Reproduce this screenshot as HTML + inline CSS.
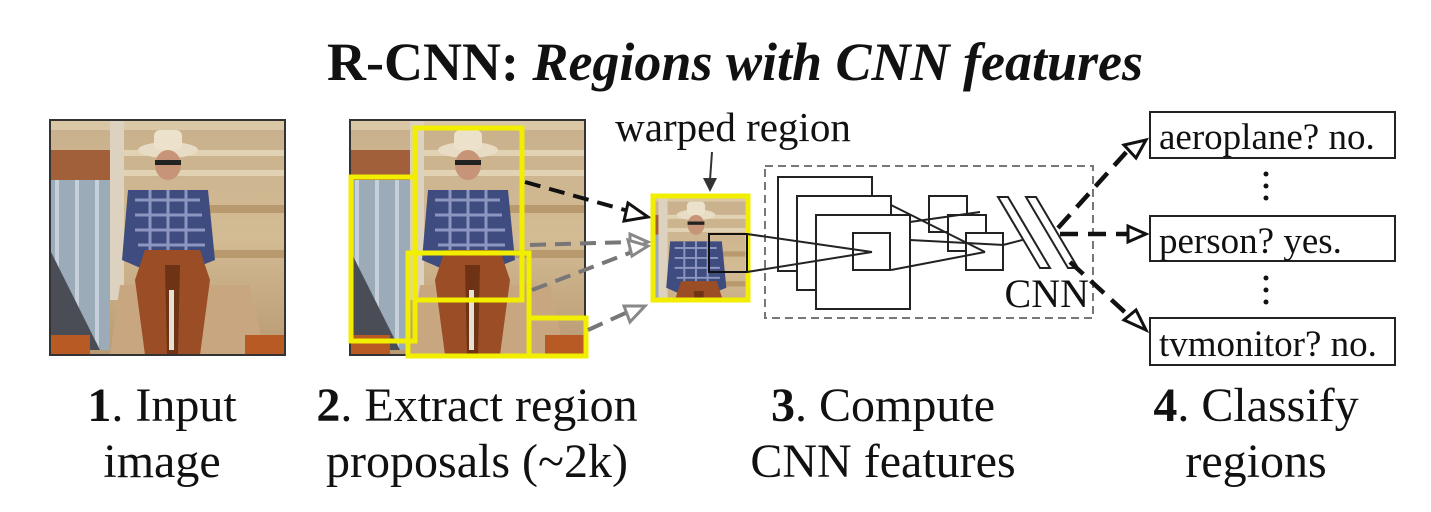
<!DOCTYPE html>
<html><head><meta charset="utf-8"><style>
html,body{margin:0;padding:0;background:#fff;}
svg{display:block;}
text{font-family:"Liberation Serif",serif;fill:#111;}
</style></head><body>
<svg width="1431" height="512" viewBox="0 0 1431 512" xmlns="http://www.w3.org/2000/svg">
<defs>
<linearGradient id="bg" x1="0" y1="0" x2="0" y2="1">
<stop offset="0" stop-color="#c8b08c"/><stop offset="0.5" stop-color="#d3bb94"/><stop offset="1" stop-color="#b89a74"/>
</linearGradient>
<g id="photo">
<rect x="0" y="0" width="235" height="235" fill="url(#bg)"/>
<rect x="0" y="0" width="235" height="10" fill="#d9c7a6"/>
<rect x="0" y="30" width="235" height="6" fill="#e2d2b4"/>
<rect x="0" y="50" width="235" height="6" fill="#e2d2b4"/>
<rect x="60" y="0" width="14" height="180" fill="#ddd2c0"/>
<rect x="0" y="30" width="60" height="30" fill="#a2603a"/>
<rect x="0" y="60" width="60" height="170" fill="#9cabb8"/>
<rect x="5" y="60" width="4" height="170" fill="#c6d0da"/>
<rect x="25" y="60" width="4" height="170" fill="#c6d0da"/>
<rect x="45" y="60" width="4" height="170" fill="#c6d0da"/>
<polygon points="0,130 50,230 0,230" fill="#4a4d56"/>
<rect x="150" y="85" width="85" height="8" fill="#b99a6e"/>
<rect x="150" y="130" width="85" height="8" fill="#b99a6e"/>
<polygon points="70,165 200,165 215,235 60,235" fill="#c8a780"/>
<ellipse cx="118" cy="30" rx="30" ry="8" fill="#e8dcc4"/>
<rect x="104" y="10" width="28" height="20" rx="6" fill="#ece2cc"/>
<ellipse cx="118" cy="45" rx="13" ry="15" fill="#c79478"/>
<rect x="105" y="40" width="26" height="5" fill="#222"/>
<polygon points="78,70 158,70 165,140 140,150 95,150 72,140" fill="#3f4c80"/>
<path d="M85,80 L150,80 M85,95 L152,95 M85,110 L155,110 M88,125 L155,125 M100,70 L100,150 M118,70 L118,150 M136,70 L136,150" stroke="#8d96c0" stroke-width="3"/>
<polygon points="95,130 150,130 160,160 150,235 95,235 85,160" fill="#9b4e26"/>
<polygon points="115,145 130,145 128,235 117,235" fill="#6e3214"/>
<rect x="119" y="170" width="5" height="60" fill="#e6e0d4"/>
<rect x="0" y="215" width="40" height="20" fill="#b85a24"/>
<rect x="195" y="215" width="40" height="20" fill="#b85a24"/>
</g>
</defs>

<text x="735" y="80" text-anchor="middle" font-size="54" font-weight="bold">R-CNN: <tspan font-style="italic">Regions with CNN features</tspan></text>

<use href="#photo" x="50" y="120"/>
<rect x="50" y="120" width="235" height="235" fill="none" stroke="#333" stroke-width="2"/>

<use href="#photo" x="350" y="120"/>
<rect x="350" y="120" width="235" height="235" fill="none" stroke="#333" stroke-width="2"/>
<g fill="none" stroke="#f2ee00" stroke-width="5">
<rect x="415" y="128" width="107" height="172"/>
<rect x="351" y="177" width="64" height="164"/>
<rect x="408" y="253" width="121" height="103"/>
<rect x="529" y="318" width="57" height="38"/>
</g>

<g stroke-width="4" fill="none" stroke-dasharray="16,9">
<line x1="525" y1="182" x2="632" y2="212" stroke="#111"/>
<line x1="530" y1="245" x2="632" y2="242" stroke="#777"/>
<line x1="532" y1="290" x2="632" y2="252" stroke="#777"/>
<line x1="588" y1="330" x2="632" y2="310" stroke="#777"/>
</g>
<polygon points="648,217 628,203 624,221" fill="#fff" stroke="#111" stroke-width="3"/>
<polygon points="648,242 630,234 630,250" fill="#fff" stroke="#888" stroke-width="3"/>
<polygon points="648,246 628,240 632,256" fill="#fff" stroke="#888" stroke-width="3"/>
<polygon points="645,306 624,306 630,322" fill="#fff" stroke="#888" stroke-width="3"/>

<text x="733" y="141" text-anchor="middle" font-size="41">warped region</text>
<line x1="712" y1="152" x2="710" y2="180" stroke="#333" stroke-width="2"/>
<polygon points="703,178 717,178 710,192" fill="#333"/>
<svg x="652" y="195" width="97" height="106" viewBox="50 0 150 160" preserveAspectRatio="none"><use href="#photo"/></svg>
<rect x="653" y="196" width="95" height="104" fill="none" stroke="#f2ee00" stroke-width="5"/>
<rect x="709" y="234" width="38" height="38" fill="none" stroke="#111" stroke-width="2"/>

<rect x="765" y="166" width="328" height="152" fill="none" stroke="#777" stroke-width="2" stroke-dasharray="8,5"/>
<g fill="#fff" stroke="#222" stroke-width="2">
<rect x="778" y="177" width="94" height="94"/>
<rect x="797" y="196" width="94" height="94"/>
<rect x="816" y="215" width="94" height="94"/>
<rect x="853" y="233" width="37" height="37"/>
<rect x="929" y="196" width="38" height="36"/>
<rect x="948" y="215" width="38" height="36"/>
<rect x="966" y="233" width="37" height="37"/>
</g>
<g stroke="#222" stroke-width="2" fill="none">
<line x1="747" y1="234" x2="872" y2="252"/>
<line x1="747" y1="272" x2="872" y2="252"/>
<line x1="891" y1="205" x2="985" y2="252"/>
<line x1="891" y1="270" x2="985" y2="252"/>
<line x1="910" y1="222" x2="980" y2="212"/>
<line x1="910" y1="240" x2="1004" y2="245"/>
<line x1="1003" y1="245" x2="1030" y2="238"/>
<polygon points="998,197 1008,197 1050,268 1040,268" fill="#fff"/>
<polygon points="1026,197 1036,197 1078,268 1068,268" fill="#fff"/>
</g>
<text x="1089" y="307" text-anchor="end" font-size="40" fill="#444">CNN</text>

<g stroke="#111" stroke-width="4.5" fill="none" stroke-dasharray="18,10">
<line x1="1058" y1="228" x2="1130" y2="148"/>
<line x1="1060" y1="234" x2="1128" y2="234"/>
<line x1="1070" y1="262" x2="1128" y2="315"/>
</g>
<polygon points="1146,140 1124,145 1136,158" fill="#fff" stroke="#111" stroke-width="3"/>
<polygon points="1146,234 1128,226 1128,242" fill="#fff" stroke="#111" stroke-width="3"/>
<polygon points="1146,330 1124,320 1136,310" fill="#fff" stroke="#111" stroke-width="3"/>

<g fill="#fff" stroke="#222" stroke-width="2">
<rect x="1150" y="112" width="245" height="46"/>
<rect x="1150" y="216" width="245" height="45"/>
<rect x="1150" y="318" width="245" height="47"/>
</g>
<g font-size="37">
<text x="1159" y="149">aeroplane? no.</text>
<text x="1159" y="253">person? yes.</text>
<text x="1159" y="356">tvmonitor? no.</text>
</g>
<g fill="#111">
<circle cx="1266" cy="174" r="2.5"/><circle cx="1266" cy="186" r="2.5"/><circle cx="1266" cy="198" r="2.5"/>
<circle cx="1266" cy="278" r="2.5"/><circle cx="1266" cy="290" r="2.5"/><circle cx="1266" cy="302" r="2.5"/>
</g>

<g font-size="48" text-anchor="middle">
<text x="162" y="421"><tspan font-weight="bold">1</tspan>. Input</text>
<text x="162" y="477">image</text>
<text x="477" y="421"><tspan font-weight="bold">2</tspan>. Extract region</text>
<text x="477" y="477">proposals (~2k)</text>
<text x="883" y="421"><tspan font-weight="bold">3</tspan>. Compute</text>
<text x="883" y="477">CNN features</text>
<text x="1256" y="421"><tspan font-weight="bold">4</tspan>. Classify</text>
<text x="1256" y="477">regions</text>
</g>
</svg>
</body></html>
